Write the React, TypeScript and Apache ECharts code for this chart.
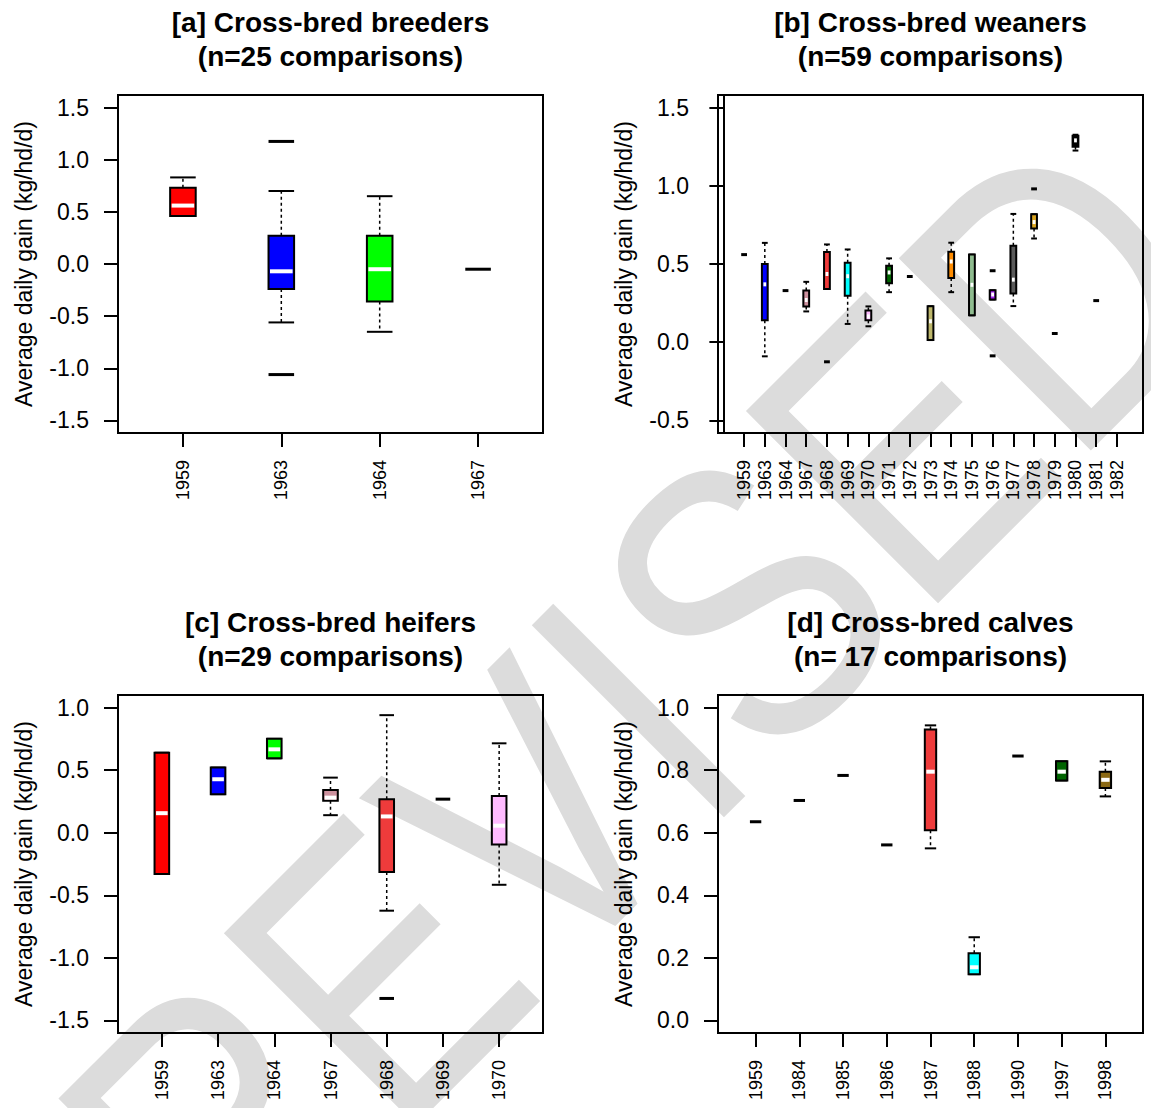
import React, { useEffect, useRef } from 'react';
import * as echarts from 'echarts';

const FONT = '"Liberation Sans", Arial, Helvetica, sans-serif';

// Each stat row: [lower whisker, Q1, median, Q3, upper whisker]; null = no data
type Stat = [number, number, number, number, number] | null;

// [a] Cross-bred breeders
const breederYears = ['1959', '1963', '1964', '1967'];
const breederStats: Stat[] = [
  [0.46, 0.46, 0.56, 0.73, 0.83],
  [-0.56, -0.24, -0.07, 0.27, 0.7],
  [-0.65, -0.36, -0.05, 0.27, 0.65],
  [-0.05, -0.05, -0.05, -0.05, -0.05],
];
const breederOutliers = [[2, 1.175], [2, -1.06]];
const breederFills = ['#FF0000', '#0000FF', '#00FF00', '#000000'];

// [b] Cross-bred weaners
const weanerYears = ['1959', '1963', '1964', '1967', '1968', '1969', '1970', '1971', '1972', '1973',
  '1974', '1975', '1976', '1977', '1978', '1979', '1980', '1981', '1982'];
const weanerStats: Stat[] = [
  [0.56, 0.56, 0.56, 0.56, 0.56],
  [-0.09, 0.14, 0.37, 0.5, 0.635],
  [0.33, 0.33, 0.33, 0.33, 0.33],
  [0.197, 0.229, 0.27, 0.33, 0.386],
  [0.341, 0.341, 0.436, 0.576, 0.625],
  [0.117, 0.297, 0.422, 0.508, 0.593],
  [0.102, 0.14, 0.165, 0.203, 0.229],
  [0.32, 0.377, 0.446, 0.489, 0.536],
  [0.42, 0.42, 0.42, 0.42, 0.42],
  [0.014, 0.014, 0.134, 0.23, 0.23],
  [0.32, 0.41, 0.516, 0.578, 0.636],
  [0.172, 0.172, 0.367, 0.56, 0.56],
  [0.273, 0.273, 0.305, 0.332, 0.332],
  [0.231, 0.311, 0.4, 0.616, 0.82],
  [0.663, 0.727, 0.768, 0.818, 0.818],
  [0.056, 0.056, 0.056, 0.056, 0.056],
  [1.225, 1.25, 1.29, 1.32, 1.326],
  [0.266, 0.266, 0.266, 0.266, 0.266],
  null,
];
const weanerOutliers = [[5, -0.125], [13, 0.457], [13, -0.087], [15, 0.98]];
const weanerFills = ['#000000', '#0000FF', '#000000', '#CD919E', '#EE3B3B', '#00FFFF', '#FFBBFF',
  '#006400', '#000000', '#BDB76B', '#FF8C00', '#8FBC8F', '#A020F0', '#5A5A5A', '#DAA520',
  '#000000', '#000000', '#000000', '#000000'];

// [c] Cross-bred heifers
const heiferYears = ['1959', '1963', '1964', '1967', '1968', '1969', '1970'];
const heiferStats: Stat[] = [
  [-0.33, -0.33, 0.156, 0.639, 0.639],
  [0.308, 0.308, 0.427, 0.52, 0.52],
  [0.594, 0.594, 0.666, 0.75, 0.75],
  [0.14, 0.255, 0.28, 0.342, 0.44],
  [-0.623, -0.313, 0.13, 0.268, 0.939],
  [0.268, 0.268, 0.268, 0.268, 0.268],
  [-0.416, -0.095, 0.056, 0.294, 0.714],
];
const heiferOutliers = [[5, -1.324]];
const heiferFills = ['#FF0000', '#0000FF', '#00FF00', '#CD919E', '#EE3B3B', '#000000', '#FFBBFF'];

// [d] Cross-bred calves
const calfYears = ['1959', '1984', '1985', '1986', '1987', '1988', '1990', '1997', '1998'];
const calfStats: Stat[] = [
  [0.635, 0.635, 0.635, 0.635, 0.635],
  [0.703, 0.703, 0.703, 0.703, 0.703],
  [0.783, 0.783, 0.783, 0.783, 0.783],
  [0.561, 0.561, 0.561, 0.561, 0.561],
  [0.55, 0.608, 0.795, 0.93, 0.943],
  [0.148, 0.148, 0.17, 0.215, 0.266],
  [0.845, 0.845, 0.845, 0.845, 0.845],
  [0.767, 0.767, 0.795, 0.828, 0.828],
  [0.716, 0.743, 0.769, 0.795, 0.828],
];
const calfOutliers: number[][] = [];
const calfFills = ['#000000', '#000000', '#000000', '#000000', '#EE3B3B', '#00FFFF', '#000000', '#006400', '#8B6914'];

// y tick values per panel
const gainTicksWide = [-1.5, -1.0, -0.5, 0.0, 0.5, 1.0, 1.5];
const gainTicksWeaners = [-0.5, 0.0, 0.5, 1.0, 1.5];
const gainTicksHeifers = [-1.5, -1.0, -0.5, 0.0, 0.5, 1.0];
const gainTicksCalves = [0.0, 0.2, 0.4, 0.6, 0.8, 1.0];

const panels = [
  {
    line1: '[a] Cross-bred breeders', line2: '(n=25 comparisons)',
    years: breederYears, stats: breederStats, outliers: breederOutliers, fills: breederFills,
    ticks: gainTicksWide, yMin: -1.62, yMax: 1.62, wex: 0.26,
    left: 118, top: 95, width: 425, height: 338,
  },
  {
    line1: '[b] Cross-bred weaners', line2: '(n=59 comparisons)',
    years: weanerYears, stats: weanerStats, outliers: weanerOutliers, fills: weanerFills,
    ticks: gainTicksWeaners, yMin: -0.58, yMax: 1.58, wex: 0.28,
    left: 718, top: 95, width: 425, height: 338,
  },
  {
    line1: '[c] Cross-bred heifers', line2: '(n=29 comparisons)',
    years: heiferYears, stats: heiferStats, outliers: heiferOutliers, fills: heiferFills,
    ticks: gainTicksHeifers, yMin: -1.6, yMax: 1.1, wex: 0.26,
    left: 118, top: 695, width: 425, height: 338,
  },
  {
    line1: '[d] Cross-bred calves', line2: '(n= 17 comparisons)',
    years: calfYears, stats: calfStats, outliers: calfOutliers, fills: calfFills,
    ticks: gainTicksCalves, yMin: -0.04, yMax: 1.04, wex: 0.26,
    left: 718, top: 695, width: 425, height: 338,
  },
];

function boxRenderer(fills: string[], wex: number) {
  return (params: any, api: any) => {
    const pos = api.value(0);
    const lo = api.value(1), q1 = api.value(2), md = api.value(3), q3 = api.value(4), hi = api.value(5);
    const half = api.size([wex, 0])[0] / 2;
    const cx = api.coord([pos, lo])[0];
    const yLo = api.coord([pos, lo])[1];
    const yQ1 = api.coord([pos, q1])[1];
    const yMd = api.coord([pos, md])[1];
    const yQ3 = api.coord([pos, q3])[1];
    const yHi = api.coord([pos, hi])[1];
    if (hi - lo < 1e-9) {
      return {
        type: 'line',
        shape: { x1: cx - half, y1: yLo, x2: cx + half, y2: yLo },
        style: { stroke: '#000', lineWidth: 3 },
      };
    }
    const dash = { stroke: '#000', lineWidth: 1.5, lineDash: [3, 3] };
    const solid = { stroke: '#000', lineWidth: 2 };
    const children: any[] = [];
    if (hi > q3) children.push({ type: 'line', shape: { x1: cx, y1: yQ3, x2: cx, y2: yHi }, style: dash });
    if (lo < q1) children.push({ type: 'line', shape: { x1: cx, y1: yQ1, x2: cx, y2: yLo }, style: dash });
    children.push({ type: 'line', shape: { x1: cx - half, y1: yHi, x2: cx + half, y2: yHi }, style: solid });
    children.push({ type: 'line', shape: { x1: cx - half, y1: yLo, x2: cx + half, y2: yLo }, style: solid });
    children.push({
      type: 'rect',
      shape: { x: cx - half, y: yQ3, width: half * 2, height: yQ1 - yQ3 },
      style: { fill: fills[pos - 1], stroke: '#000', lineWidth: 2 },
    });
    children.push({
      type: 'line',
      shape: { x1: cx - half + 1.5, y1: yMd, x2: cx + half - 1.5, y2: yMd },
      style: { stroke: '#fff', lineWidth: 4 },
    });
    return { type: 'group', children };
  };
}

function outlierRenderer(wex: number) {
  return (params: any, api: any) => {
    const pos = api.value(0);
    const v = api.value(1);
    const half = api.size([wex, 0])[0] / 2;
    const [cx, cy] = api.coord([pos, v]);
    return {
      type: 'line',
      shape: { x1: cx - half, y1: cy, x2: cx + half, y2: cy },
      style: { stroke: '#000', lineWidth: 3 },
    };
  };
}

function buildOption() {
  const grid: any[] = [];
  const xAxis: any[] = [];
  const yAxis: any[] = [];
  const series: any[] = [];
  const graphic: any[] = [];

  // faint narrow-lettered REVISED stamp behind everything
  graphic.push({
    type: 'text',
    x: 638,
    y: 710,
    rotation: Math.PI / 4,
    scaleX: 0.82,
    z: -10,
    silent: true,
    style: {
      text: 'REVISED',
      fontSize: 395,
      fontFamily: FONT,
      fill: '#DCDCDC',
      align: 'center',
      verticalAlign: 'middle',
    },
  });

  panels.forEach((p, i) => {
    const n = p.years.length;
    grid.push({
      left: p.left, top: p.top, width: p.width, height: p.height,
      show: true, borderColor: '#000', borderWidth: 2, backgroundColor: 'transparent',
    });
    const positions = p.years.map((_, k) => k + 1);
    xAxis.push({
      type: 'value', gridIndex: i,
      min: 0.5 - 0.04 * n, max: n + 0.5 + 0.04 * n,
      axisLine: { show: true, onZero: false, lineStyle: { color: '#000', width: 2 } },
      axisTick: { show: true, customValues: positions, length: 14, lineStyle: { color: '#000', width: 2 } },
      axisLabel: {
        show: true, customValues: positions, rotate: 90, margin: 27,
        fontSize: 18, fontFamily: FONT, color: '#000',
        formatter: (v: number) => p.years[Math.round(v) - 1] ?? '',
      },
      splitLine: { show: false },
    });
    yAxis.push({
      type: 'value', gridIndex: i, min: p.yMin, max: p.yMax,
      axisLine: { show: true, lineStyle: { color: '#000', width: 2 } },
      axisTick: { show: true, customValues: p.ticks, length: 14, lineStyle: { color: '#000', width: 2 } },
      axisLabel: {
        show: true, customValues: p.ticks, margin: 29,
        fontSize: 23, fontFamily: FONT, color: '#000',
        formatter: (v: number) => v.toFixed(1),
      },
      splitLine: { show: false },
    });
    const boxData = p.stats
      .map((s, k) => (s ? [k + 1, ...s] : null))
      .filter((d) => d !== null);
    series.push({
      type: 'custom', xAxisIndex: i, yAxisIndex: i, z: 3,
      renderItem: boxRenderer(p.fills, p.wex),
      encode: { x: 0, y: [1, 2, 3, 4, 5] },
      data: boxData,
    });
    if (p.outliers.length) {
      series.push({
        type: 'custom', xAxisIndex: i, yAxisIndex: i, z: 3,
        renderItem: outlierRenderer(p.wex),
        encode: { x: 0, y: 1 },
        data: p.outliers,
      });
    }
    const cx = p.left + p.width / 2;
    const titleTop = p.top - 73;
    graphic.push({
      type: 'text', x: cx, y: titleTop, silent: true,
      style: { text: p.line1, fontSize: 28, fontWeight: 'bold', fontFamily: FONT, fill: '#000', align: 'center', verticalAlign: 'middle' },
    });
    graphic.push({
      type: 'text', x: cx, y: titleTop + 34, silent: true,
      style: { text: p.line2, fontSize: 28, fontWeight: 'bold', fontFamily: FONT, fill: '#000', align: 'center', verticalAlign: 'middle' },
    });
    graphic.push({
      type: 'text', x: p.left < 600 ? 24 : 624, y: p.top + p.height / 2, rotation: Math.PI / 2, silent: true,
      style: { text: 'Average daily gain (kg/hd/d)', fontSize: 23, fontFamily: FONT, fill: '#000', align: 'center', verticalAlign: 'middle' },
    });
  });

  return {
    animation: false,
    backgroundColor: '#ffffff',
    grid, xAxis, yAxis, series, graphic,
  };
}

export default function App() {
  const ref = useRef<HTMLDivElement>(null);
  useEffect(() => {
    if (!ref.current) return;
    const chart = echarts.init(ref.current, null, { renderer: 'svg' });
    chart.setOption(buildOption() as any);
    return () => chart.dispose();
  }, []);
  return (
    <div
      ref={ref}
      style={{ position: 'fixed', left: 0, top: 0, width: 1151, height: 1108, background: '#fff' }}
    />
  );
}
